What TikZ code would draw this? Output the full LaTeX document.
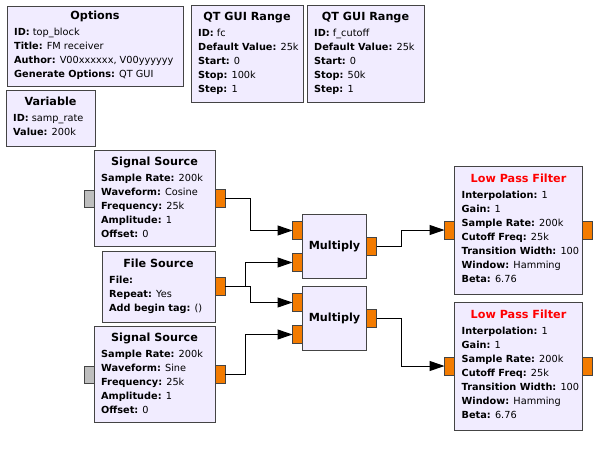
\documentclass[tikz,border=0pt]{standalone}
\usepackage{fontspec}
\setmainfont{DejaVu Sans}
\usetikzlibrary{arrows.meta}
\definecolor{blockfill}{HTML}{F1ECFF}
\definecolor{blockborder}{HTML}{444444}
\definecolor{portorange}{HTML}{F37B00}
\definecolor{portgray}{HTML}{BEBEBE}
\tikzset{
  x=1pt, y=-1pt,
  {block/.style 2 args} ={draw=blockborder, fill=blockfill, line width=1pt,
                  rectangle, inner sep=0, outer sep=0,
                  minimum width=#1pt, minimum height=#2pt},
  {port/.style} ={draw=blockborder, fill=portorange, line width=1pt,
                  inner sep=0, outer sep=0, minimum width=10pt, minimum height=18pt},
  {msgport/.style} ={port, fill=portgray, minimum height=17pt},
  {link/.style} ={line width=1pt, -{Triangle[length=15pt,width=10pt]}},
  {blocktitle/.style} ={font=\fontsize{11.2}{13}\selectfont\bfseries, anchor=mid, inner sep=0},
  {blockline/.style} ={font=\fontsize{9.75}{14}\selectfont, anchor=mid west, inner sep=0},
}
% title and parameter lines, centred as a group in the block
\newcommand{\grctext}[4]{%
  \path (#1.center) ++(0,{-(16+14*(#2-1))/2}) node[blocktitle] {#3};
  \foreach \k/\v [count=\i] in {#4}{
    \path (#1.west) ++(7,{-(16+14*(#2-1))/2+16+14*(\i-1)}) node[blockline] {\textbf{\k:} \v};
  }%
}

\begin{document}
\begin{tikzpicture}
\fill[white] (0,0) rectangle (604,455);
\useasboundingbox (0,0) rectangle (604,455);

% variables
\node[block={176}{80}] (opts) at (95,46) {};
\grctext{opts}{4}{Options}{ID/top\_block, Title/FM receiver, Author/{V00xxxxxx, V00yyyyyy}, Generate Options/QT GUI}
\node[block={89}{56}] (var) at (50.5,118) {};
\grctext{var}{2}{Variable}{ID/samp\_rate, Value/200k}
\node[block={112}{97}] (qta) at (247,53.5) {};
\grctext{qta}{5}{QT GUI Range}{ID/fc, Default Value/25k, Start/0, Stop/100k, Step/1}
\node[block={117}{97}] (qtb) at (365.5,54) {};
\grctext{qtb}{5}{QT GUI Range}{ID/f\_cutoff, Default Value/25k, Start/0, Stop/50k, Step/1}

% sources
\node[block={121}{96}] (ss1) at (154.5,198.5) {};
\grctext{ss1}{5}{Signal Source}{Sample Rate/200k, Waveform/Cosine, Frequency/25k, Amplitude/1, Offset/0}
\node[block={113}{71}] (fs) at (158.5,286.5) {};
\grctext{fs}{3}{File Source}{File/{}, Repeat/Yes, Add begin tag/()}
\node[block={121}{96}] (ss2) at (154.5,374.5) {};
\grctext{ss2}{5}{Signal Source}{Sample Rate/200k, Waveform/Sine, Frequency/25k, Amplitude/1, Offset/0}

% multipliers
\node[block={64}{64}] (mul1) at (334.5,246.5) {};
\path (mul1.center) node[blocktitle] {Multiply};
\node[block={64}{64}] (mul2) at (334.5,318.5) {};
\path (mul2.center) node[blocktitle] {Multiply};

% filters
\node[block={128}{128}] (lpf1) at (518.5,230) {};
\grctext{lpf1}{7}{\color{red}Low Pass Filter}{Interpolation/1, Gain/1, Sample Rate/200k, Cutoff Freq/25k, Transition Width/100, Window/Hamming, Beta/6.76}
\node[block={128}{128}] (lpf2) at (518.5,366) {};
\grctext{lpf2}{7}{\color{red}Low Pass Filter}{Interpolation/1, Gain/1, Sample Rate/200k, Cutoff Freq/25k, Transition Width/100, Window/Hamming, Beta/6.76}

% ports
\node[msgport, anchor=east] (ss1in) at (ss1.west) {};
\node[port, anchor=west] (ss1out) at (ss1.east) {};
\node[port, anchor=west] (fsout) at (fs.east) {};
\node[msgport, anchor=east] (ss2in) at (ss2.west) {};
\node[port, anchor=west] (ss2out) at (ss2.east) {};
\node[port, anchor=east] (mul1a) at ([yshift=16pt]mul1.west) {};
\node[port, anchor=east] (mul1b) at ([yshift=-16pt]mul1.west) {};
\node[port, anchor=west] (mul1out) at (mul1.east) {};
\node[port, anchor=east] (mul2a) at ([yshift=16pt]mul2.west) {};
\node[port, anchor=east] (mul2b) at ([yshift=-16pt]mul2.west) {};
\node[port, anchor=west] (mul2out) at (mul2.east) {};
\node[port, anchor=east] (lpf1in) at (lpf1.west) {};
\node[port, anchor=west] (lpf1out) at (lpf1.east) {};
\node[port, anchor=east] (lpf2in) at (lpf2.west) {};
\node[port, anchor=west] (lpf2out) at (lpf2.east) {};

% connections
\draw[link] (ss1out.east) -- ++(25,0) |- (mul1a.west);
\draw[link] (fsout.east) -- ++(20,0) |- (mul1b.west);
\draw[link] (fsout.east) -- ++(25,0) |- (mul2a.west);
\draw[link] (ss2out.east) -- ++(20,0) |- (mul2b.west);
\draw[link] (mul1out.east) -- ++(25,0) |- (lpf1in.west);
\draw[link] (mul2out.east) -- ++(25,0) |- (lpf2in.west);
\end{tikzpicture}
\end{document}
